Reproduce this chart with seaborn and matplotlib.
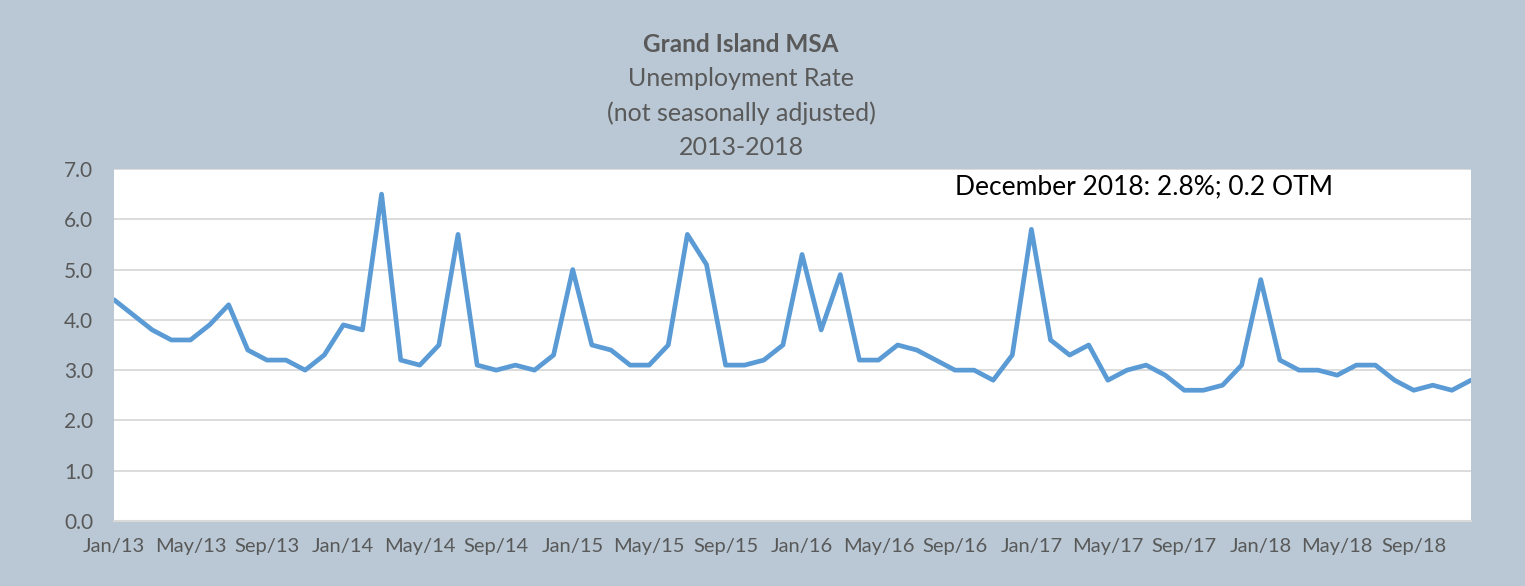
import numpy as np
import pandas as pd
import matplotlib
matplotlib.use("Agg")
import matplotlib.pyplot as plt
import seaborn as sns

# Monthly unemployment rate, Jan 2013 - Dec 2018 (not seasonally adjusted)
rate_2013 = [4.4, 4.1, 3.8, 3.6, 3.6, 3.9, 4.3, 3.4, 3.2, 3.2, 3.0, 3.3]
rate_2014 = [3.9, 3.8, 6.5, 3.2, 3.1, 3.5, 5.7, 3.1, 3.0, 3.1, 3.0, 3.3]
rate_2015 = [5.0, 3.5, 3.4, 3.1, 3.1, 3.5, 5.7, 5.1, 3.1, 3.1, 3.2, 3.5]
rate_2016 = [5.3, 3.8, 4.9, 3.2, 3.2, 3.5, 3.4, 3.2, 3.0, 3.0, 2.8, 3.3]
rate_2017 = [5.8, 3.6, 3.3, 3.5, 2.8, 3.0, 3.1, 2.9, 2.6, 2.6, 2.7, 3.1]
rate_2018 = [4.8, 3.2, 3.0, 3.0, 2.9, 3.1, 3.1, 2.8, 2.6, 2.7, 2.6, 2.8]

years = [13, 14, 15, 16, 17, 18]
months = ["Jan", "Feb", "Mar", "Apr", "May", "Jun",
          "Jul", "Aug", "Sep", "Oct", "Nov", "Dec"]

month_labels = [f"{m}/{y}" for y in years for m in months]
rates = rate_2013 + rate_2014 + rate_2015 + rate_2016 + rate_2017 + rate_2018

df = pd.DataFrame({"idx": range(len(rates)), "label": month_labels, "rate": rates})

bg = "#B9C8D4"
txt = "#595959"
grid_c = "#D9D9D9"

sns.set_theme(style="white")
plt.rcParams['font.family'] = ['Lato', 'DejaVu Sans']

fig = plt.figure(figsize=(15.25, 5.86), dpi=100, facecolor=bg)
ax = fig.add_axes([114 / 1525, 1 - 521 / 586, (1471 - 114) / 1525, (521 - 169) / 586])
ax.set_facecolor("white")

sns.lineplot(data=df, x="idx", y="rate", ax=ax, color="#5B9BD5", linewidth=3.4)

ax.set_xlim(0, len(rates) - 1)
ax.set_ylim(0, 7)
ax.set_yticks(np.arange(0, 7.01, 1.0))
ax.set_yticklabels([f"{v:.1f}" for v in np.arange(0, 7.01, 1.0)])
ax.yaxis.grid(True, color=grid_c, linewidth=1.3)
ax.set_axisbelow(True)

tick_pos = list(range(0, len(rates), 4))
ax.set_xticks(tick_pos)
ax.set_xticklabels([month_labels[i] for i in tick_pos])

ax.tick_params(axis="x", direction="inout", length=10, width=1.3, color=grid_c,
               labelsize=14.5, labelcolor=txt, pad=7)
ax.tick_params(axis="y", length=0, labelsize=15, labelcolor=txt, pad=15)

for side in ["top", "right", "left"]:
    ax.spines[side].set_visible(False)
ax.spines["bottom"].set_color(grid_c)
ax.spines["bottom"].set_linewidth(1.5)

ax.set_xlabel("")
ax.set_ylabel("")

ax.text(0.62, 0.949, "December 2018: 2.8%; 0.2 OTM", transform=ax.transAxes,
        ha="left", va="center", fontsize=19, color="black")

# Titles
fig.text(741 / 1525, 1 - 45 / 586, "Grand Island MSA", ha="center", va="center",
         fontsize=17.5, fontweight="bold", color=txt)
fig.text(741 / 1525, 1 - 79 / 586, "Unemployment Rate", ha="center", va="center",
         fontsize=18, color=txt)
fig.text(741 / 1525, 1 - 113 / 586, "(not seasonally adjusted)", ha="center", va="center",
         fontsize=18, color=txt)
fig.text(741 / 1525, 1 - 147 / 586, "2013-2018", ha="center", va="center",
         fontsize=18, color=txt)

fig.savefig("out.png", dpi=100, facecolor=bg)
